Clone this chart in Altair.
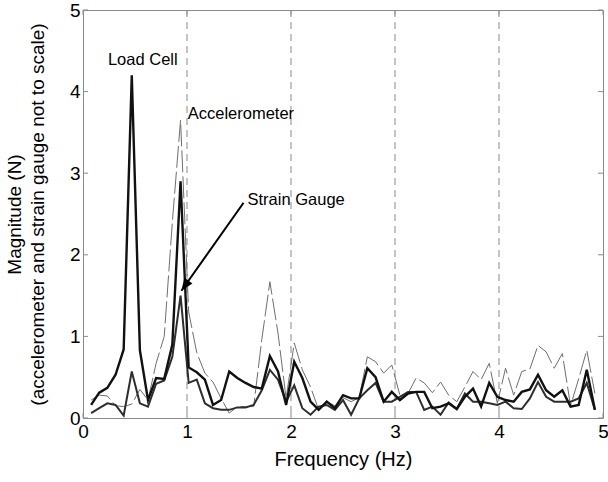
import altair as alt
import pandas as pd

# Frequency bins (Hz)
freq = [0.078, 0.156, 0.234, 0.313, 0.391, 0.469, 0.547, 0.625, 0.703, 0.781,
        0.859, 0.938, 1.016, 1.094, 1.172, 1.250, 1.328, 1.406, 1.484, 1.563,
        1.641, 1.719, 1.797, 1.875, 1.953, 2.031, 2.109, 2.188, 2.266, 2.344,
        2.422, 2.500, 2.578, 2.656, 2.734, 2.813, 2.891, 2.969, 3.047, 3.125,
        3.203, 3.281, 3.359, 3.438, 3.516, 3.594, 3.672, 3.750, 3.828, 3.906,
        3.984, 4.063, 4.141, 4.219, 4.297, 4.375, 4.453, 4.531, 4.609, 4.688,
        4.766, 4.844, 4.922]

load_cell = [0.16, 0.31, 0.37, 0.53, 0.84, 4.20, 0.83, 0.22, 0.49, 0.48,
             0.90, 2.90, 0.62, 0.56, 0.47, 0.16, 0.22, 0.57, 0.49, 0.43,
             0.38, 0.36, 0.76, 0.57, 0.16, 0.69, 0.49, 0.20, 0.10, 0.20,
             0.12, 0.28, 0.24, 0.24, 0.61, 0.50, 0.20, 0.32, 0.22, 0.30,
             0.32, 0.32, 0.12, 0.14, 0.18, 0.11, 0.26, 0.36, 0.14, 0.43,
             0.26, 0.22, 0.20, 0.32, 0.35, 0.53, 0.34, 0.26, 0.34, 0.14,
             0.16, 0.59, 0.10]

strain_gauge = [0.06, 0.12, 0.18, 0.16, 0.03, 0.57, 0.18, 0.14, 0.42, 0.46,
                0.75, 1.50, 0.43, 0.47, 0.18, 0.12, 0.10, 0.10, 0.13, 0.13,
                0.16, 0.34, 0.59, 0.47, 0.20, 0.40, 0.12, 0.04, 0.14, 0.16,
                0.10, 0.22, 0.04, 0.24, 0.34, 0.43, 0.20, 0.20, 0.26, 0.32,
                0.32, 0.10, 0.14, 0.04, 0.19, 0.11, 0.30, 0.20, 0.20, 0.18,
                0.16, 0.20, 0.12, 0.11, 0.24, 0.44, 0.26, 0.20, 0.20, 0.20,
                0.24, 0.43, 0.10]

accelerometer = [0.22, 0.28, 0.27, 0.15, 0.14, 0.17, 0.35, 0.22, 0.67, 1.00,
                 2.40, 3.65, 1.30, 0.80, 0.55, 0.44, 0.24, 0.06, 0.14, 0.14,
                 0.14, 0.96, 1.67, 1.04, 0.24, 0.92, 0.59, 0.38, 0.10, 0.20,
                 0.15, 0.25, 0.20, 0.25, 0.75, 0.69, 0.55, 0.65, 0.28, 0.30,
                 0.49, 0.43, 0.31, 0.44, 0.28, 0.20, 0.38, 0.57, 0.47, 0.67,
                 0.18, 0.61, 0.28, 0.57, 0.60, 0.89, 0.81, 0.61, 0.79, 0.15,
                 0.48, 0.83, 0.30]

tick_values = [0, 1, 2, 3, 4, 5]
grid_x = [1, 2, 3, 4]

# Annotation labels
label_text = ["Load Cell", "Accelerometer", "Strain Gauge"]
label_x = [0.575, 1.007, 1.582]
label_y = [4.33, 3.66, 2.61]
label_align = ["center", "left", "left"]

# Arrow pointing at the strain gauge peak
arrow_start = (1.544, 2.638)
arrow_end = (0.946, 1.56)

FONT = "Liberation Sans"
W, H = 520, 408

df = pd.DataFrame({"f": freq, "lc": load_cell, "sg": strain_gauge, "acc": accelerometer})

xs = alt.Scale(domain=[0, 5], nice=False)
ys = alt.Scale(domain=[0, 5], nice=False)

x_axis = alt.Axis(values=tick_values, format="d", title="Frequency (Hz)",
                  ticks=False, tickSize=0, domain=False, grid=False,
                  labelFontSize=19, labelPadding=4, labelColor="black",
                  labelFont=FONT, titleFont=FONT, titleFontSize=20,
                  titleFontWeight="normal", titleColor="black", titlePadding=8,
                  labelFlush=False)
y_axis = alt.Axis(values=tick_values, format="d",
                  title=["Magnitude (N)", "(accelerometer and strain gauge not to scale)"],
                  ticks=False, tickSize=0, domain=False, grid=False,
                  labelFontSize=19, labelPadding=3, labelColor="black",
                  labelFont=FONT, titleFont=FONT, titleFontSize=19,
                  titleFontWeight="normal", titleColor="black",
                  titleLineHeight=23, titleX=-59, titleY=H / 2,
                  titleBaseline="bottom", labelFlush=False)

base = alt.Chart(df)

grid = alt.Chart(pd.DataFrame({"g": grid_x})).mark_rule(
    color="#8a8a8a", strokeWidth=1, strokeDash=[7, 5]
).encode(x=alt.X("g:Q", scale=xs, axis=x_axis))

tdf = pd.DataFrame({"t": tick_values})
ticks_bottom = alt.Chart(tdf).mark_rule(color="#8a8a8a").encode(
    x=alt.X("t:Q", scale=xs), y=alt.value(H), y2=alt.value(H - 5))
ticks_top = alt.Chart(tdf).mark_rule(color="#8a8a8a").encode(
    x=alt.X("t:Q", scale=xs), y=alt.value(0), y2=alt.value(5))
ticks_left = alt.Chart(tdf).mark_rule(color="#8a8a8a").encode(
    y=alt.Y("t:Q", scale=ys, axis=y_axis), x=alt.value(0), x2=alt.value(5))
ticks_right = alt.Chart(tdf).mark_rule(color="#8a8a8a").encode(
    y=alt.Y("t:Q", scale=ys), x=alt.value(W), x2=alt.value(W - 5))

acc_line = base.mark_line(color="#6e6e6e", strokeWidth=1, strokeDash=[22, 4]).encode(
    x=alt.X("f:Q", scale=xs), y=alt.Y("acc:Q", scale=ys))
sg_line = base.mark_line(color="#2e2e2e", strokeWidth=2.0).encode(
    x=alt.X("f:Q", scale=xs), y=alt.Y("sg:Q", scale=ys))
lc_line = base.mark_line(color="#111111", strokeWidth=2.4).encode(
    x=alt.X("f:Q", scale=xs), y=alt.Y("lc:Q", scale=ys))

ldf = pd.DataFrame({"text": label_text, "x": label_x, "y": label_y, "align": label_align})
labels_center = alt.Chart(ldf[ldf["align"] == "center"]).mark_text(
    font=FONT, fontSize=16.5, color="black", align="center", baseline="alphabetic"
).encode(x=alt.X("x:Q", scale=xs), y=alt.Y("y:Q", scale=ys), text="text:N")
labels_left = alt.Chart(ldf[ldf["align"] == "left"]).mark_text(
    font=FONT, fontSize=16.5, color="black", align="left", baseline="alphabetic"
).encode(x=alt.X("x:Q", scale=xs), y=alt.Y("y:Q", scale=ys), text="text:N")

adf = pd.DataFrame({"x": [arrow_start[0]], "y": [arrow_start[1]],
                    "x2": [arrow_end[0]], "y2": [arrow_end[1]]})
arrow_shaft = alt.Chart(adf).mark_rule(color="black", strokeWidth=2).encode(
    x=alt.X("x:Q", scale=xs), y=alt.Y("y:Q", scale=ys), x2="x2:Q", y2="y2:Q")
arrow_head = alt.Chart(adf).mark_point(
    shape="M0,0L-0.4,1L0.4,1Z", filled=True, color="black", size=600,
    angle=215, opacity=1, strokeWidth=0
).encode(x=alt.X("x2:Q", scale=xs), y=alt.Y("y2:Q", scale=ys))

chart = alt.layer(
    grid, ticks_bottom, ticks_top, ticks_left, ticks_right,
    acc_line, sg_line, lc_line,
    labels_center, labels_left, arrow_shaft, arrow_head
).properties(
    width=W, height=H,
    autosize=alt.AutoSizeParams(type="none"),
    padding={"left": 83, "top": 10, "right": 5, "bottom": 64},
    background="white"
).configure_view(stroke="#8a8a8a", strokeWidth=1)

chart.save("out.html", embed_options={"renderer": "svg", "actions": False})
